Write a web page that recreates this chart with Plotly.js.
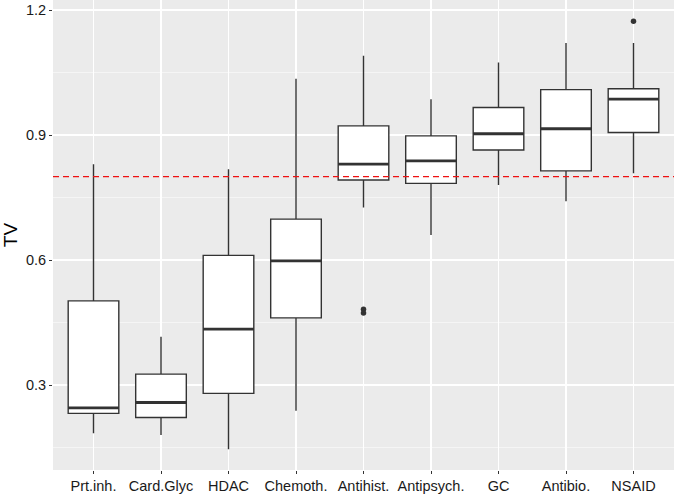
<!DOCTYPE html>
<html><head><meta charset="utf-8">
<script src="https://cdn.plot.ly/plotly-3.0.1.min.js"></script>
<style>html,body{margin:0;padding:0;background:#fff}</style>
</head><body><div id="chart" style="width:675px;height:495px"></div>
<script>
// ---- data ----
const categories = ["Prt.inh.", "Card.Glyc", "HDAC", "Chemoth.", "Antihist.", "Antipsych.", "GC", "Antibio.", "NSAID"];
const lowerWhisker = [0.184, 0.180, 0.146, 0.238, 0.726, 0.660, 0.780, 0.741, 0.808];
const q1Values     = [0.232, 0.222, 0.280, 0.461, 0.792, 0.784, 0.864, 0.814, 0.906];
const medianValues = [0.245, 0.258, 0.434, 0.598, 0.830, 0.838, 0.903, 0.915, 0.986];
const q3Values     = [0.502, 0.326, 0.611, 0.698, 0.922, 0.898, 0.966, 1.009, 1.011];
const upperWhisker = [0.830, 0.416, 0.818, 1.035, 1.090, 0.986, 1.074, 1.121, 1.121];
const outlierCategory = ["Antihist.", "Antihist.", "NSAID"];
const outlierValue    = [0.482, 0.473, 1.173];
const threshold = 0.8;
const yTicks = [0.3, 0.6, 0.9, 1.2];

// ---- build ----
const pos = categories.map((c, i) => i + 1);
const boxWidth = 0.75;
const ink = "#333333";

const boxTrace = {
  type: "box",
  x: pos,
  q1: q1Values, median: medianValues, q3: q3Values,
  lowerfence: lowerWhisker, upperfence: upperWhisker,
  width: boxWidth,
  fillcolor: "#ffffff",
  line: { color: ink, width: 1.4 },
  whiskerwidth: 0,
  boxpoints: false,
  hoverinfo: "skip",
  showlegend: false
};

const medX = [], medY = [];
pos.forEach((p, i) => {
  medX.push(p - boxWidth / 2, p + boxWidth / 2, null);
  medY.push(medianValues[i], medianValues[i], null);
});
const medianTrace = {
  type: "scatter", mode: "lines", x: medX, y: medY,
  line: { color: ink, width: 2.9 }, hoverinfo: "skip", showlegend: false
};

const outlierTrace = {
  type: "scatter", mode: "markers",
  x: outlierCategory.map(c => categories.indexOf(c) + 1),
  y: outlierValue,
  marker: { color: ink, size: 5.5 },
  hoverinfo: "skip", showlegend: false
};

const font = "Liberation Sans, Arial, Helvetica, sans-serif";
const layout = {
  width: 675, height: 495,
  margin: { l: 53, r: 1, t: 0, b: 25 },
  paper_bgcolor: "#ffffff",
  plot_bgcolor: "#ebebeb",
  font: { family: font, color: "#1a1a1a", size: 14 },
  showlegend: false,
  xaxis: {
    range: [0.4, 9.6],
    tickvals: pos, ticktext: categories,
    showgrid: true, gridcolor: "#ffffff", gridwidth: 1.1,
    zeroline: false, showline: false,
    ticks: "outside", ticklen: 3, tickwidth: 1, tickcolor: ink,
    tickfont: { size: 14.5, color: "#1a1a1a" }
  },
  yaxis: {
    range: [0.096, 1.224],
    tickvals: yTicks, ticktext: yTicks.map(v => v.toFixed(1)),
    showgrid: true, gridcolor: "#ffffff", gridwidth: 1.1,
    minor: { tickvals: [0.15, 0.45, 0.75, 1.05], showgrid: true, gridcolor: "#ffffff", gridwidth: 0.5, ticks: "" },
    zeroline: false, showline: false,
    ticks: "outside", ticklen: 3, tickwidth: 1, tickcolor: ink,
    tickfont: { size: 14.5, color: "#1a1a1a" },
    title: { text: "TV", font: { size: 19, color: "#000000" }, standoff: 10 }
  },
  shapes: [{
    type: "line", xref: "paper", x0: 0, x1: 1, yref: "y", y0: threshold, y1: threshold,
    line: { color: "#ee1111", width: 1.3, dash: "6px,4px" }, layer: "above"
  }]
};

Plotly.newPlot("chart", [boxTrace, medianTrace, outlierTrace], layout, { staticPlot: true, displayModeBar: false });
</script>
</body></html>
